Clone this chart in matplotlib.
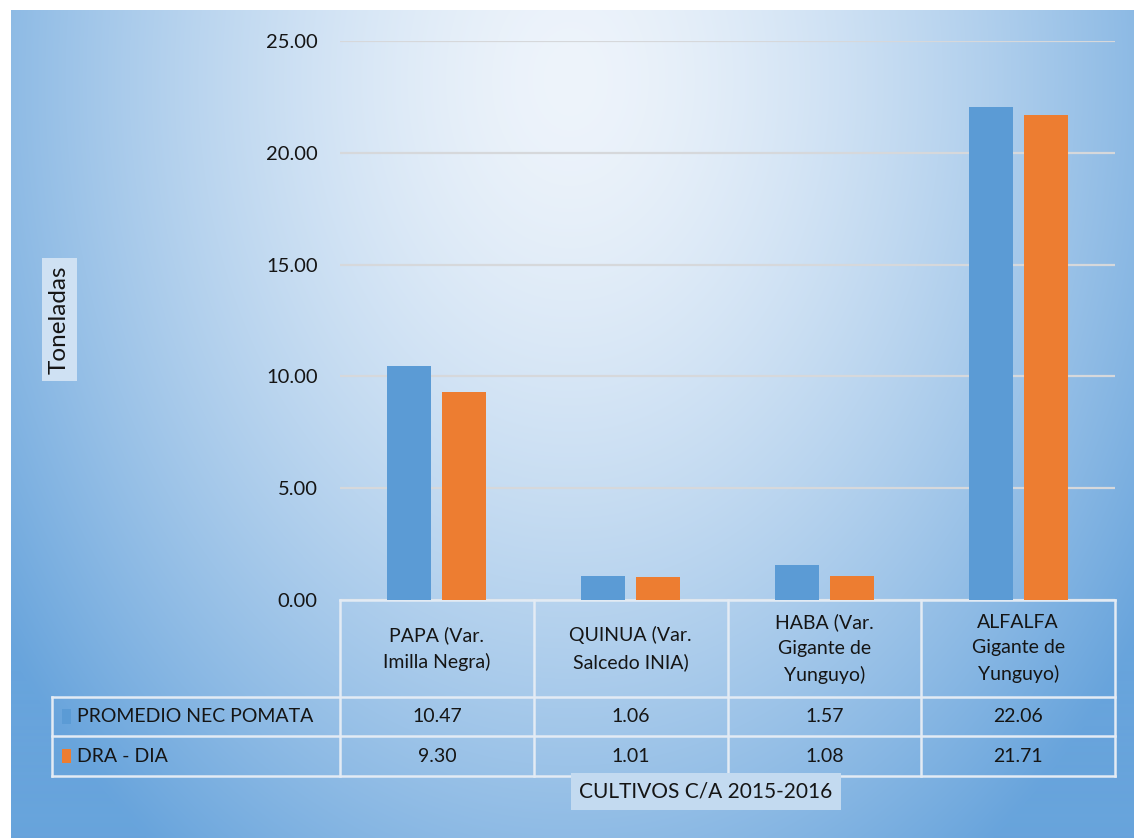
import numpy as np
import matplotlib.pyplot as plt
from matplotlib.patches import Rectangle
from matplotlib.lines import Line2D

# data
cultivos = ['PAPA (Var.\nImilla Negra)', 'QUINUA (Var.\nSalcedo INIA)',
            'HABA (Var.\nGigante de\nYunguyo)', 'ALFALFA\nGigante de\nYunguyo)']
promedio_nec = [10.47, 1.06, 1.57, 22.06]
dra_dia = [9.30, 1.01, 1.08, 21.71]
series_names = ['PROMEDIO NEC POMATA', 'DRA - DIA']
yticks = [0, 5, 10, 15, 20, 25]

blue = '#5B9BD5'
orange = '#ED7D31'
txt = '#151515'
plt.rcParams['font.family'] = ['Lato', 'DejaVu Sans']

W, H = 1134, 838
fig = plt.figure(figsize=(W / 100, H / 100), dpi=100)
fig.patch.set_facecolor('white')

# gradient background
bg = fig.add_axes([11 / W, 0, 1 - 11 / W, 1 - 10 / H])
bg.set_axis_off()
yy, xx = np.mgrid[10:H, 11:W]
d = np.sqrt(((xx - 570) / 700.0) ** 2 + ((yy - 80) / 950.0) ** 2)
t = np.clip(d, 0, 1) ** 1.5
light = np.array([238, 244, 251]) / 255
dark = np.array([104, 164, 220]) / 255
img = light[None, None, :] * (1 - t[..., None]) + dark[None, None, :] * t[..., None]
bg.imshow(img, aspect='auto', extent=[0, 1, 0, 1])
bg.set_xlim(0, 1)
bg.set_ylim(0, 1)

# main plot area
x0, x1, ytop, ybot = 340, 1115, 41, 600
ax = fig.add_axes([x0 / W, 1 - ybot / H, (x1 - x0) / W, (ybot - ytop) / H])
ax.patch.set_alpha(0)
x = np.arange(len(cultivos))
bw = 0.227
off = 0.142
ax.bar(x - off, promedio_nec, bw, color=blue, zorder=3)
ax.bar(x + off, dra_dia, bw, color=orange, zorder=3)
ax.set_xlim(-0.5, len(cultivos) - 0.5)
ax.set_ylim(0, 25)
ax.set_yticks(yticks)
ax.set_yticklabels(['%.2f' % v for v in yticks], fontsize=14.5, color=txt)
ax.set_xticks([])
ax.tick_params(axis='y', length=0, pad=16)
for s in ax.spines.values():
    s.set_visible(False)
ax.grid(axis='y', color='#d6d8db', linewidth=1.6, zorder=0)

# data table
ph = ybot - ytop
tr = ax.get_xaxis_transform()
rows_px = [600, 697, 736, 776]
ry = [-(r - ybot) / ph for r in rows_px]
left_px = 52
xl = -0.5 - (x0 - left_px) / ((x1 - x0) / len(cultivos))
lc = '#e3ebf4'
lw = 1.8
ax.add_line(Line2D([-0.5, 3.5], [ry[0], ry[0]], transform=tr, color=lc, lw=lw, clip_on=False))
for yv in ry[1:]:
    ax.add_line(Line2D([xl, 3.5], [yv, yv], transform=tr, color=lc, lw=lw, clip_on=False))
for k in range(len(cultivos) + 1):
    ax.add_line(Line2D([k - 0.5, k - 0.5], [ry[0], ry[3]], transform=tr, color=lc, lw=lw, clip_on=False))
ax.add_line(Line2D([xl, xl], [ry[1], ry[3]], transform=tr, color=lc, lw=lw, clip_on=False))

for i, lab in enumerate(cultivos):
    ax.text(i, (ry[0] + ry[1]) / 2, lab, transform=tr, ha='center', va='center',
            fontsize=14, color=txt, linespacing=1.6)
    ax.text(i, (ry[1] + ry[2]) / 2, '%.2f' % promedio_nec[i], transform=tr,
            ha='center', va='center', fontsize=14, color=txt)
    ax.text(i, (ry[2] + ry[3]) / 2, '%.2f' % dra_dia[i], transform=tr,
            ha='center', va='center', fontsize=14, color=txt)

for j, (name, col) in enumerate(zip(series_names, [blue, orange])):
    yc = (ry[j + 1] + ry[j + 2]) / 2
    ax.add_patch(Rectangle((xl + 0.05, yc - 0.013), 0.05, 0.026, transform=tr,
                           facecolor=col, edgecolor='none', clip_on=False))
    ax.text(xl + 0.13, yc, name, transform=tr, ha='left', va='center',
            fontsize=14, color=txt)

# axis titles
ax.text(-0.362, 0.501, 'Toneladas', transform=ax.transAxes, rotation=90,
        ha='center', va='center', fontsize=17.5, color=txt,
        bbox=dict(boxstyle='square,pad=0.3', facecolor='#cfe1f3', edgecolor='none'))
ax.text(0.472, -0.342, 'CULTIVOS C/A 2015-2016', transform=ax.transAxes,
        ha='center', va='center', fontsize=15, color=txt,
        bbox=dict(boxstyle='square,pad=0.4', facecolor='#c3daf0', edgecolor='none'))

fig.savefig('out.png', dpi=100)
